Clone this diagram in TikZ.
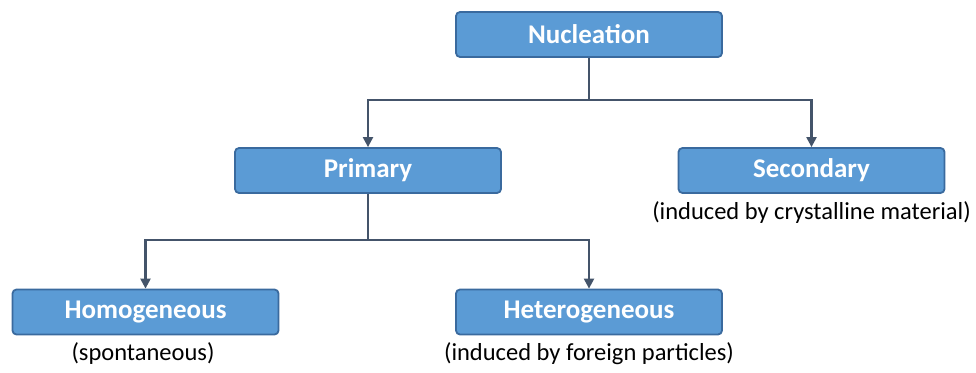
\documentclass[tikz,border=0pt]{standalone}
\usepackage{fontspec}
\setmainfont{Carlito}
\usetikzlibrary{positioning,arrows.meta}
\definecolor{nblue}{HTML}{5B9BD5}
\definecolor{nedge}{HTML}{3A6A9E}
\definecolor{nline}{HTML}{44546A}

\begin{document}
\begin{tikzpicture}[x=1pt,y=-1pt,>={Triangle[length=10pt,width=10pt]},
   b/.style={draw=nedge, fill=nblue, line width=1.8pt, rounded corners=4pt, minimum height=45pt,
             minimum width=266pt, text=white, font=\fontsize{27}{32}\selectfont\bfseries},
   lbl/.style={font=\fontsize{24.5}{28}\selectfont, inner sep=0pt},
   c/.style={draw=nline, line width=2.2pt}]
  \useasboundingbox (0,0) rectangle (976,372);
  % boxes
  \node[b] (nuc) at (589,34.5) {Nucleation};
  \node[b] (pri) at (368,170.5) {Primary};
  \node[b] (sec) at (811.5,170.5) {Secondary};
  \node[b] (hom) at (145.5,312) {Homogeneous};
  \node[b] (het) at (589,312) {Heterogeneous};
  % notes under the boxes
  \node[lbl] (secn) at (811.5,213) {(induced by crystalline material)};
  \node[lbl] (homn) at (143,354) {(spontaneous)};
  \node[lbl] (hetn) at (589,354) {(induced by foreign particles)};
  % connectors
  \coordinate (j1) at (589,100);
  \coordinate (j2) at (368,240);
  \draw[c] (nuc.south) -- (j1);
  \draw[c,->] (j1) -| (pri.north);
  \draw[c,->] (j1) -| (sec.north);
  \draw[c] (pri.south) -- (j2);
  \draw[c,->] (j2) -| (hom.north);
  \draw[c,->] (j2) -| (het.north);
\end{tikzpicture}
\end{document}
